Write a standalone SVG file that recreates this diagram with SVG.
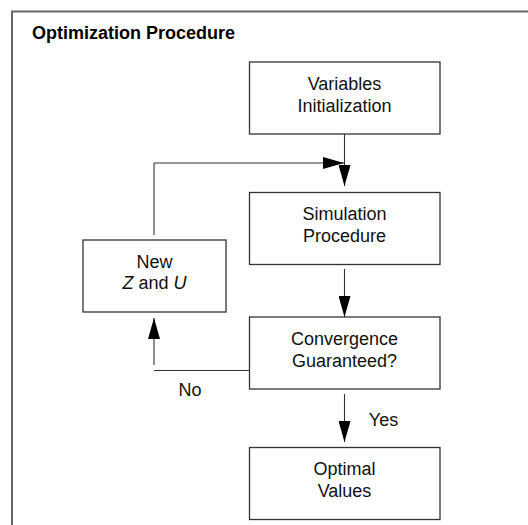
<svg xmlns="http://www.w3.org/2000/svg" width="528" height="525" viewBox="0 0 528 525">
<style>
.box{fill:#fff;stroke:#333;stroke-width:1.3}
.t{font-family:"Liberation Sans",Arial,sans-serif;font-size:18px;fill:#111;text-anchor:middle}
.c{fill:none;stroke:#333;stroke-width:1.1}
</style>
<defs>
<marker id="ah" markerUnits="userSpaceOnUse" markerWidth="22" markerHeight="12" refX="21" refY="6" orient="auto">
<path d="M0,0 L21,6 L0,12 z" fill="#000"/>
</marker>
</defs>
<rect x="12" y="11.5" width="530" height="530" fill="none" stroke="#666" stroke-width="2"/>
<text x="32" y="38.5" font-family="Liberation Sans,Arial,sans-serif" font-size="18" font-weight="bold" fill="#000">Optimization Procedure</text>
<g id="connectors">
<line class="c" x1="344.5" y1="134" x2="344.5" y2="186" marker-end="url(#ah)"/>
<line class="c" x1="154" y1="235" x2="154" y2="163"/>
<line class="c" x1="154" y1="163" x2="344" y2="163" marker-end="url(#ah)"/>
<line class="c" x1="344.5" y1="269" x2="344.5" y2="317" marker-end="url(#ah)"/>
<line class="c" x1="249.5" y1="370.5" x2="154" y2="370.5"/>
<line class="c" x1="154" y1="365" x2="154" y2="318" marker-end="url(#ah)"/>
<line class="c" x1="344.5" y1="394" x2="344.5" y2="442" marker-end="url(#ah)"/>
<text class="t" x="190" y="396">No</text>
<text class="t" x="383.5" y="426">Yes</text>
</g>
<g id="init">
<rect class="box" x="249.5" y="62" width="190.5" height="72"/>
<text class="t" x="344.5" y="90">Variables</text>
<text class="t" x="344.5" y="111.5">Initialization</text>
</g>
<g id="sim">
<rect class="box" x="249.5" y="192.5" width="190.5" height="72"/>
<text class="t" x="344.5" y="220">Simulation</text>
<text class="t" x="344.5" y="241.5">Procedure</text>
</g>
<g id="conv">
<rect class="box" x="249.5" y="317" width="190.5" height="72"/>
<text class="t" x="344.5" y="345">Convergence</text>
<text class="t" x="344.5" y="366.5">Guaranteed?</text>
</g>
<g id="opt">
<rect class="box" x="249.5" y="447.5" width="190.5" height="72"/>
<text class="t" x="344.5" y="475">Optimal</text>
<text class="t" x="344.5" y="496.5">Values</text>
</g>
<g id="newzu">
<rect class="box" x="83" y="240" width="143" height="72"/>
<text class="t" x="154.5" y="267.5">New</text>
<text class="t" x="154.5" y="289"><tspan font-style="italic">Z</tspan> and <tspan font-style="italic">U</tspan></text>
</g>
</svg>
